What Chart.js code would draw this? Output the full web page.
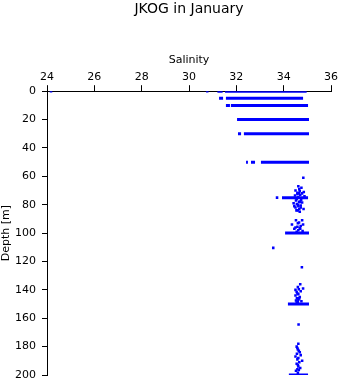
<!DOCTYPE html>
<html>
<head>
<meta charset="utf-8">
<script src="https://cdn.jsdelivr.net/npm/chart.js@4/dist/chart.umd.min.js"></script>
<style>
	html, body { margin: 0; padding: 0; background: #fff; }
	#wrap { width: 341px; height: 384px; }
</style>
</head>
<body>
<div id="wrap"><canvas id="chart" width="341" height="384"></canvas></div>
<script>
// Dense CTD transects: [depth, salinity start, salinity end]
var segDepth = [0, 0, 5, 5, 10, 10, 20, 30, 30, 50, 50, 50, 75, 100, 150, 200];
var segFrom = [31.2, 31.52, 31.27, 31.56, 31.56, 31.77, 32.03, 32.07, 32.32, 32.41, 32.62, 33.04, 33.93, 34.06, 34.18, 34.22];
var segTo = [31.42, 34.97, 31.44, 34.82, 31.73, 35.03, 35.07, 32.2, 35.07, 32.49, 32.79, 35.07, 35.03, 35.07, 35.07, 35.03];

// Single bottle samples
var ptSalinity = [
	24.17, 30.77, 33.72, 34.83,
	34.62, 34.75, 34.5, 34.68, 34.85, 34.58, 34.7, 34.88, 34.62, 34.55, 34.74,
	34.52, 34.65, 34.78, 34.42, 34.6, 34.72, 34.5, 34.66, 34.84, 34.68,
	34.66, 34.58, 34.78, 34.48, 34.64, 34.7, 34.56, 34.62, 34.45, 34.72, 34.6, 34.54,
	34.52, 34.78, 34.65, 34.35, 34.82, 34.58, 34.45, 34.7, 34.8, 34.55,
	34.6, 34.72, 34.5, 34.62, 34.68,
	33.56, 34.77,
	34.7, 34.6, 34.82, 34.5, 34.72, 34.58, 34.5, 34.68, 34.62, 34.75, 34.55,
	34.64, 34.55, 34.62, 34.56, 34.66, 34.6, 34.52,
	34.63,
	34.62, 34.55, 34.6, 34.68, 34.72, 34.5, 34.58, 34.78, 34.55, 34.62, 34.7, 34.52, 34.6,
	34.58, 34.64, 34.56, 34.62, 34.66, 34.6, 34.58, 34.64
];
var ptDepth = [
	0, 0, 75, 61,
	67, 68, 70, 70.5, 71, 72.5, 73, 74, 74.5, 76, 76.5,
	77, 78, 78.5, 79, 80, 80.5, 82, 83, 83, 85,
	69, 71.5, 72, 73.5, 72, 78, 79.5, 81, 81, 82, 84, 84,
	91, 91, 92.5, 94, 94, 95.5, 97, 97, 98.5, 99,
	93, 95, 96, 98, 96.5,
	110.4, 124,
	136, 138, 139, 140, 141, 142.5, 144, 145, 147, 148, 149,
	139.5, 141.5, 143, 146, 146, 148.5, 147.5,
	164.4,
	178, 180, 182, 184, 186, 187, 189, 190, 192, 194, 195, 197, 198.5,
	181, 183, 185, 188, 191, 193, 196, 196.5
];

var blue = "#0000ff";
var font = "'DejaVu Sans', sans-serif";

var datasets = [];
for (var i = 0; i < segDepth.length; i++) {
	datasets.push({
		data: [{ x: segFrom[i], y: segDepth[i] }, { x: segTo[i], y: segDepth[i] }],
		showLine: true,
		borderColor: blue,
		borderWidth: 3,
		pointRadius: 0
	});
}
var pts = [];
for (var i = 0; i < ptSalinity.length; i++) {
	pts.push({ x: ptSalinity[i], y: ptDepth[i] });
}
datasets.push({
	data: pts,
	showLine: false,
	pointStyle: "rect",
	pointRadius: 1.8,
	pointBorderWidth: 0,
	backgroundColor: blue,
	borderColor: blue
});

new Chart(document.getElementById("chart"), {
	type: "scatter",
	data: { datasets: datasets },
	options: {
		responsive: false,
		animation: false,
		events: [],
		layout: { padding: { left: 0, right: 10, top: 0, bottom: 9 } },
		plugins: {
			legend: { display: false },
			tooltip: { enabled: false },
			title: {
				display: true,
				text: "JKOG in January",
				fullSize: false,
				color: "#000",
				font: { family: font, size: 14, weight: "normal" },
				padding: { top: 1, bottom: 36 }
			}
		},
		scales: {
			x: {
				type: "linear",
				position: "top",
				min: 24,
				max: 36,
				ticks: { stepSize: 2, color: "#000", padding: 1, font: { family: font, size: 11 } },
				grid: { drawOnChartArea: false, drawTicks: true, tickLength: 6, color: "#000" },
				border: { color: "#000", width: 1 },
				title: { display: true, text: "Salinity", color: "#000", font: { family: font, size: 11 }, padding: { top: 0, bottom: 3 } },
				afterFit: function(s) { s.paddingLeft = 0; s.paddingRight = 0; }
			},
			y: {
				type: "linear",
				reverse: true,
				min: 0,
				max: 200,
				ticks: { stepSize: 20, color: "#000", padding: 6, font: { family: font, size: 11 } },
				grid: { drawOnChartArea: false, drawTicks: true, tickLength: 5, color: "#000" },
				border: { color: "#000", width: 1 },
				title: { display: true, text: "Depth [m]", color: "#000", font: { family: font, size: 11 }, padding: { top: 0, bottom: 0 } },
				afterFit: function(s) { s.width = 47; s.paddingTop = 0; s.paddingBottom = 0; }
			}
		}
	}
});
</script>
</body>
</html>
